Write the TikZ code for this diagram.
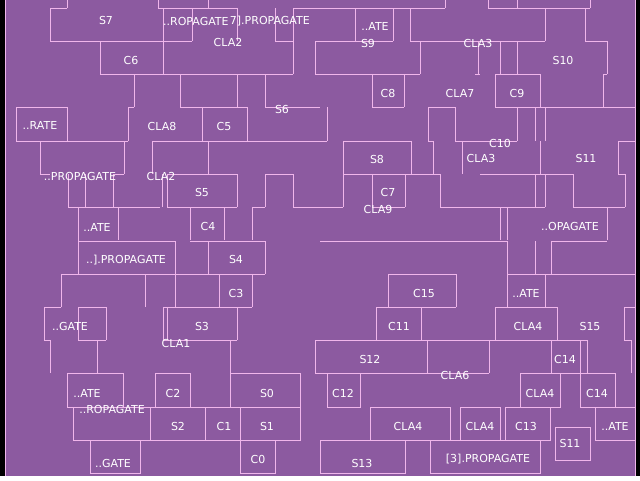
\documentclass[tikz,border=0pt]{standalone}
\usepackage{fontspec}
\setmainfont{DejaVu Sans}
\definecolor{bgpurple}{RGB}{140,90,160}
\definecolor{edgepink}{RGB}{240,182,235}
\begin{document}
\begin{tikzpicture}[x=1pt,y=-1pt,
  edge/.style={draw=edgepink,line width=1pt},
  lbl/.style={text=white,font=\fontsize{11}{12}\selectfont,inner sep=0pt}]
\useasboundingbox (0,0) rectangle (640,480);
% canvas
\fill[white] (0,0) rectangle (640,480);
\fill[bgpurple] (5,0) rectangle (635,476);
\fill[black] (0,0) rectangle (5,476);
\fill[black] (635,0) rectangle (640,476);
% cell outlines (horizontal and vertical runs)
\foreach \a/\b/\c/\d in {
  5/0/5/476, 635/0/635/476,
  50/8/67/8, 67/0/67/8, 50/8/50/41, 50/41/192/41, 100/41/100/74, 100/74/293/74,
  134/74/134/107, 128/107/134/107, 128/107/128/141, 158/0/158/8,
  16/107/67/107, 16/107/16/141, 67/107/67/141,
  158/8/237/8, 208/0/208/8, 163/8/163/74, 192/8/192/41, 237/8/237/41, 275/8/275/41,
  293/8/293/74, 293/8/445/8, 275/41/293/41, 315/41/320/41, 315/41/315/74,
  180/74/180/107, 180/107/247/107, 237/74/237/107, 265/74/265/107, 265/107/320/107,
  202/107/202/141, 247/107/247/141,
  445/0/445/8, 355/8/355/41, 393/8/393/41, 320/41/393/41, 410/8/410/41, 410/41/480/41,
  420/41/420/74, 478/41/478/74, 315/74/420/74, 475/74/480/74,
  372/74/372/107, 404/74/404/107, 372/107/404/107, 327/107/327/141,
  428/107/455/107, 428/107/428/141, 455/107/455/141,
  488/8/590/8, 488/0/488/8, 517/0/517/8, 590/0/590/8, 545/8/545/41, 480/41/545/41,
  585/8/585/41, 585/41/607/41, 607/41/607/74, 500/41/500/74, 517/41/517/74,
  495/74/540/74, 495/74/495/107, 540/74/540/107, 495/107/635/107,
  603/74/607/74, 603/74/603/107, 517/107/517/141, 535/107/535/141, 545/107/545/141,
  16/141/128/141, 40/141/40/174, 40/174/50/174, 124/141/124/174, 113/174/124/174,
  152/141/160/141, 152/141/152/174, 68/174/68/207, 85/174/85/207, 113/174/113/207,
  68/207/160/207, 78/207/78/240, 118/207/118/240,
  160/141/327/141, 208/141/208/174, 167/174/237/174, 167/174/167/207, 237/174/237/207,
  167/207/237/207, 162/174/162/207, 265/174/265/207, 265/174/293/174, 293/174/293/207,
  293/207/343/207, 190/207/190/240, 224/207/224/240, 252/207/252/240, 252/207/265/207,
  428/141/433/141, 433/141/433/174, 455/141/517/141, 462/141/462/174,
  343/141/411/141, 343/141/343/207, 411/141/411/174, 343/174/440/174, 440/174/440/207,
  440/207/545/207, 372/174/372/207, 405/174/405/207, 372/207/405/207,
  540/141/540/174, 480/174/573/174, 618/141/635/141, 618/141/618/174, 618/174/625/174,
  625/174/625/207, 573/207/625/207, 573/174/573/207, 535/174/535/207, 545/174/545/207,
  500/207/500/240, 507/207/507/240, 607/207/607/240,
  78/240/78/274, 78/241/175/241, 61/274/265/274, 145/274/145/307, 61/274/61/307,
  44/307/61/307, 78/307/106/307, 44/307/44/340, 106/307/106/340, 78/307/78/340,
  44/340/50/340, 78/340/106/340, 50/340/50/373, 97/340/97/373,
  190/241/265/241, 208/241/208/274, 265/241/265/274, 175/241/175/307,
  219/274/219/307, 252/274/252/307, 163/307/252/307, 163/307/163/340, 167/307/167/340,
  237/307/237/340, 163/340/237/340, 230/340/230/373, 315/340/315/373,
  320/241/507/241, 388/274/456/274, 388/274/388/307, 456/274/456/307, 376/307/456/307,
  376/307/376/340, 421/307/421/340, 315/340/587/340, 427/340/427/373,
  507/241/507/274, 535/241/535/274, 551/241/551/274, 551/241/607/241, 507/274/635/274,
  507/274/507/307, 545/274/545/307, 495/307/557/307, 495/307/495/340, 557/307/557/340,
  624/307/624/340, 624/307/635/307, 624/340/631/340, 631/340/631/373,
  489/340/489/373, 551/340/551/373, 580/340/580/373, 587/340/587/373,
  427/373/489/373}
  \draw[edge] (\a,\b) -- (\c,\d);
% lower cells
\foreach \a/\b/\c/\d in {
  67/373/123/407, 73/407/150/440, 155/373/190/407, 230/373/300/407,
  150/407/205/440, 205/407/240/440, 240/407/300/440, 90/440/140/473,
  240/440/275/473, 327/373/360/407, 315/340/427/373, 370/407/450/440,
  320/440/405/473, 460/407/500/440, 505/407/550/440, 430/440/540/473,
  520/373/560/407, 580/373/615/407, 551/340/580/373, 555/427/590/460,
  595/407/635/440}
  \draw[edge] (\a,\b) rectangle (\c,\d);
% labels
\node[lbl] (l1) at (106,20) {S7};
\node[lbl] (l2) at (131,60) {C6};
\node[lbl,anchor=west] (l3) at (163,21) {..ROPAGATE};
\node[lbl,anchor=east] (l3b) at (310,21) {7].PROPAGATE};
\node[lbl] (l4) at (228,42) {CLA2};
\node[lbl] (l5) at (375,26) {..ATE};
\node[lbl] (l6) at (368,43) {S9};
\node[lbl] (l7) at (478,43) {CLA3};
\node[lbl] (l8) at (563,60) {S10};
\node[lbl] (l9) at (282,109) {S6};
\node[lbl] (l10) at (388,93) {C8};
\node[lbl] (l11) at (460,93) {CLA7};
\node[lbl] (l12) at (517,93) {C9};
\node[lbl] (l13) at (40,125) {..RATE};
\node[lbl] (l14) at (162,126) {CLA8};
\node[lbl] (l15) at (224,126) {C5};
\node[lbl] (l16) at (500,143) {C10};
\node[lbl] (l17) at (481,158) {CLA3};
\node[lbl] (l18) at (377,159) {S8};
\node[lbl] (l19) at (586,158) {S11};
\node[lbl] (l20) at (80,176) {..PROPAGATE};
\node[lbl] (l21) at (161,176) {CLA2};
\node[lbl] (l22) at (202,192) {S5};
\node[lbl] (l23) at (388,192) {C7};
\node[lbl] (l24) at (378,209) {CLA9};
\node[lbl] (l25) at (97,227) {..ATE};
\node[lbl] (l26) at (208,226) {C4};
\node[lbl] (l27) at (570,226) {..OPAGATE};
\node[lbl] (l28) at (126,260) {..].PROPAGATE};
\node[lbl] (l29) at (236,259) {S4};
\node[lbl] (l30) at (236,293) {C3};
\node[lbl] (l31) at (424,293) {C15};
\node[lbl] (l32) at (526,293) {..ATE};
\node[lbl] (l33) at (70,326) {..GATE};
\node[lbl] (l34) at (202,326) {S3};
\node[lbl] (l35) at (399,326) {C11};
\node[lbl] (l36) at (528,326) {CLA4};
\node[lbl] (l37) at (590,326) {S15};
\node[lbl] (l38) at (176,343) {CLA1};
\node[lbl] (l39) at (370,359) {S12};
\node[lbl] (l40) at (455,375) {CLA6};
\node[lbl] (l41) at (565,359) {C14};
\node[lbl] (l42) at (87,393) {..ATE};
\node[lbl] (l43) at (173,393) {C2};
\node[lbl] (l44) at (267,393) {S0};
\node[lbl] (l45) at (343,393) {C12};
\node[lbl] (l46) at (540,393) {CLA4};
\node[lbl] (l47) at (597,393) {C14};
\node[lbl] (l48) at (112,409) {..ROPAGATE};
\node[lbl] (l49) at (178,426) {S2};
\node[lbl] (l50) at (224,426) {C1};
\node[lbl] (l51) at (267,426) {S1};
\node[lbl] (l52) at (408,426) {CLA4};
\node[lbl] (l53) at (480,426) {CLA4};
\node[lbl] (l54) at (526,426) {C13};
\node[lbl] (l55) at (570,443) {S11};
\node[lbl] (l56) at (615,426) {..ATE};
\node[lbl] (l57) at (113,463) {..GATE};
\node[lbl] (l58) at (258,459) {C0};
\node[lbl] (l59) at (362,463) {S13};
\node[lbl] (l60) at (488,459) {[3].PROPAGATE};
\end{tikzpicture}
\end{document}
